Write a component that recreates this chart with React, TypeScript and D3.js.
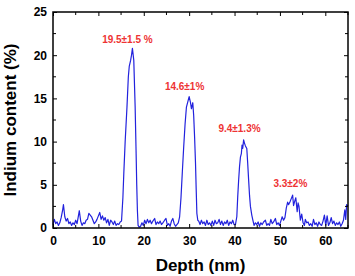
import React, { useEffect, useRef } from "react";
import * as d3 from "d3";

// depth (nm) and indium content (%)
const depth = [
  0, 0.3, 0.6, 0.9, 1.2, 1.5, 1.8, 2.1, 2.3, 2.6, 2.9, 3.2, 3.5, 3.8, 4.1, 4.4, 4.7, 5.0, 5.3, 5.6, 5.8,
  6.1, 6.4, 6.7, 7.0, 7.3, 7.6, 7.9, 8.2, 8.5, 8.8, 9.1, 9.4, 9.7, 10.0, 10.3, 10.6, 10.9, 11.2, 11.5,
  11.8, 12.1, 12.4, 12.7, 13.0, 13.3, 13.6, 13.9, 14.2, 14.5, 14.8, 15.1,
  15.4, 15.6, 15.9, 16.3, 16.6, 16.8, 17.1, 17.3, 17.5, 17.8, 18.1, 18.3, 18.45, 18.6, 18.75,
  19.0, 19.3, 19.6, 19.9, 20.2, 20.5, 20.8, 21.1, 21.4, 21.7, 22.0, 22.4, 22.7, 23.0, 23.3, 23.6, 23.9,
  24.2, 24.6, 24.9, 25.2, 25.5, 25.8, 26.1, 26.4, 26.7, 27.0, 27.3, 27.6, 27.9,
  28.2, 28.5, 28.8, 29.1, 29.4, 29.7, 30.0, 30.3, 30.5, 30.8, 31.0, 31.2, 31.4, 31.55, 31.7, 31.9,
  32.1, 32.4, 32.7, 33.0, 33.3, 33.6, 33.9, 34.2, 34.5, 34.8, 35.1, 35.4, 35.7, 36.0, 36.3, 36.6, 36.9,
  37.2, 37.5, 37.8, 38.1, 38.4, 38.7, 39.0, 39.3, 39.6, 39.9, 40.2,
  40.5, 40.7, 40.9, 41.1, 41.3, 41.5, 41.65, 41.8, 42.0, 42.2, 42.4, 42.7, 42.9, 43.1, 43.3, 43.5, 43.8,
  44.0, 44.3, 44.6, 44.9, 45.2, 45.5, 45.8, 46.1, 46.4, 46.8, 47.1, 47.4, 47.7, 48.0, 48.3, 48.6, 49.0,
  49.3, 49.6, 49.9, 50.2, 50.5, 50.8, 51.1, 51.4, 51.7, 51.9, 52.2, 52.5, 52.8, 53.0, 53.2, 53.5, 53.8,
  54.0, 54.2, 54.5, 54.8, 55.1, 55.4, 55.6, 55.9, 56.2, 56.5, 56.8, 57.1, 57.4, 57.7, 58.0, 58.3, 58.6,
  58.9, 59.2, 59.5, 59.8, 60.1, 60.4, 60.7, 61.0, 61.3, 61.6, 61.9, 62.2, 62.5, 62.8, 63.1, 63.4, 63.7,
  64.0, 64.3, 64.5, 64.7, 65.0,
];

const indium = [
  0.4, 1.0, 0.5, 0.7, 0.3, 0.6, 1.2, 2.0, 2.7, 1.3, 0.8, 1.1, 0.5, 0.7, 0.3, 0.6, 0.4, 0.9, 0.5, 1.4, 2.0,
  0.8, 0.3, 0.6, 0.5, 0.9, 1.0, 1.7, 1.5, 1.3, 0.9, 0.5, 0.7, 1.0, 1.4, 1.8, 1.0, 1.4, 0.9, 1.2,
  0.6, 1.0, 0.3, 0.9, 0.7, 0.4, 0.8, 0.3, 0.5, 0.4, 0.7, 0.8,
  3.5, 6.3, 10.0, 14.0, 17.5, 18.7, 19.4, 20.0, 20.8, 19.4, 14.0, 9.0, 5.0, 2.0, 0.3,
  0.1, 0.2, 0.6, 0.3, 0.9, 0.5, 1.0, 0.6, 0.9, 0.5, 0.8, 1.1, 0.4, 0.7, 0.5, 0.8, 0.4,
  0.6, 0.9, 1.1, 0.3, 0.5, 0.2, 0.8, 1.1, 0.5, 0.2, 0.4, 0.6, 1.3,
  3.5, 6.5, 9.4, 12.0, 14.0, 14.6, 15.2, 14.5, 13.8, 14.5, 13.0, 10.5, 7.5, 4.5, 1.7, 0.9,
  0.8, 0.4, 0.9, 0.5, 0.7, 0.3, 0.9, 0.4, 0.6, 0.3, 0.8, 0.3, 0.9, 0.5, 0.6, 1.0, 0.4,
  0.8, 0.3, 0.7, 0.5, 0.9, 0.3, 0.7, 0.5, 0.9, 0.4, 0.4,
  1.3, 3.6, 5.5, 7.1, 8.2, 8.6, 9.6, 9.2, 10.2, 9.8, 9.5, 9.2, 7.5, 5.6, 3.8, 2.5, 1.5,
  1.0, 0.3, 0.6, 0.4, 0.7, 0.2, 0.6, 0.4, 0.7, 0.9, 0.3, 0.5, 0.3, 1.0, 0.5, 0.7, 1.1,
  0.4, 0.6, 0.3, 0.8, 1.3, 0.9, 1.2, 2.3, 3.0, 2.7, 3.0, 3.4, 3.8, 2.6, 3.0, 3.5, 1.9,
  2.9, 2.5, 0.9, 1.6, 0.6, 0.3, 1.0, 0.6, 0.7, 0.3, 0.5, 0.2, 1.0, 0.4, 0.6, 0.2, 0.7,
  0.4, 0.3, 0.8, 1.5, 0.3, 1.4, 0.3, 0.6, 1.2, 0.5, 0.8, 0.3, 0.6, 0.4, 0.7, 0.2, 0.5,
  0.9, 2.1, 1.0, 2.7, 2.5,
];

// peak annotations
const peakLabels = ["19.5±1.5 %", "14.6±1%", "9.4±1.3%", "3.3±2%"];
const peakDepths = [16.4, 29.0, 41.1, 52.3];
const peakLabelValues = [21.4, 16.0, 11.1, 4.7];

const xTicks = [0, 10, 20, 30, 40, 50, 60];
const xMinorTicks = [5, 15, 25, 35, 45, 55, 65];
const yTicks = [0, 5, 10, 15, 20, 25];
const yMinorTicks = [2.5, 7.5, 12.5, 17.5, 22.5];

const App = () => {
  const svgRef = useRef(null);

  useEffect(() => {
    const svg = d3.select(svgRef.current);
    svg.selectAll("*").remove();

    const width = 355;
    const height = 276;
    const margin = { top: 12, right: 7, bottom: 48, left: 53 };
    const font = "'Liberation Sans', Arial, sans-serif";

    const x = d3
      .scaleLinear()
      .domain([0, 65])
      .range([margin.left, width - margin.right]);
    const y = d3
      .scaleLinear()
      .domain([0, 25])
      .range([height - margin.bottom, margin.top]);

    svg.append("rect").attr("width", width).attr("height", height).attr("fill", "white");

    // data line
    const points = depth.map((d, i) => [d, indium[i]]);
    svg
      .append("path")
      .datum(points)
      .attr("fill", "none")
      .attr("stroke", "#2222dd")
      .attr("stroke-width", 1.2)
      .attr("stroke-linejoin", "round")
      .attr("d", d3.line().x((d) => x(d[0])).y((d) => y(d[1])));

    // axes, ticks pointing inward
    const bottom = svg
      .append("g")
      .attr("transform", `translate(0, ${y(0)})`)
      .call(d3.axisBottom(x).tickValues(xTicks).tickSizeInner(-4).tickSizeOuter(0).tickPadding(8));
    bottom
      .selectAll(".minor")
      .data(xMinorTicks)
      .join("line")
      .attr("class", "minor")
      .attr("x1", (d) => x(d))
      .attr("x2", (d) => x(d))
      .attr("y2", -3)
      .attr("stroke", "black");

    const top = svg
      .append("g")
      .attr("transform", `translate(0, ${y(25)})`)
      .call(d3.axisTop(x).tickValues(xTicks).tickSizeInner(-4).tickSizeOuter(0).tickFormat(() => ""));
    top
      .selectAll(".minor")
      .data(xMinorTicks)
      .join("line")
      .attr("class", "minor")
      .attr("x1", (d) => x(d))
      .attr("x2", (d) => x(d))
      .attr("y2", 3)
      .attr("stroke", "black");

    const left = svg
      .append("g")
      .attr("transform", `translate(${x(0)}, 0)`)
      .call(d3.axisLeft(y).tickValues(yTicks).tickSizeInner(-4).tickSizeOuter(0).tickPadding(6));
    left
      .selectAll(".minor")
      .data(yMinorTicks)
      .join("line")
      .attr("class", "minor")
      .attr("y1", (d) => y(d))
      .attr("y2", (d) => y(d))
      .attr("x2", 3)
      .attr("stroke", "black");

    const right = svg
      .append("g")
      .attr("transform", `translate(${x(65)}, 0)`)
      .call(d3.axisRight(y).tickValues(yTicks).tickSizeInner(-4).tickSizeOuter(0).tickFormat(() => ""));
    right
      .selectAll(".minor")
      .data(yMinorTicks)
      .join("line")
      .attr("class", "minor")
      .attr("y1", (d) => y(d))
      .attr("y2", (d) => y(d))
      .attr("x2", -3)
      .attr("stroke", "black");

    svg.selectAll(".domain").remove();
    svg.selectAll(".tick line").attr("stroke", "black").attr("stroke-width", 1);
    svg
      .selectAll(".tick text")
      .attr("fill", "black")
      .style("font-family", font)
      .style("font-weight", "bold")
      .style("font-size", "12px");

    // frame
    svg
      .append("rect")
      .attr("x", x(0))
      .attr("y", y(25))
      .attr("width", x(65) - x(0))
      .attr("height", y(0) - y(25))
      .attr("fill", "none")
      .attr("stroke", "black")
      .attr("stroke-width", 1.5);

    // peak labels
    svg
      .selectAll(".peak")
      .data(peakLabels)
      .join("text")
      .attr("class", "peak")
      .attr("x", (d, i) => x(peakDepths[i]))
      .attr("y", (d, i) => y(peakLabelValues[i]))
      .attr("text-anchor", "middle")
      .attr("fill", "#ee3333")
      .style("font-family", font)
      .style("font-weight", "bold")
      .style("font-size", "10px")
      .text((d) => d);

    // axis titles
    svg
      .append("text")
      .attr("x", (x(0) + x(65)) / 2)
      .attr("y", 271)
      .attr("text-anchor", "middle")
      .style("font-family", font)
      .style("font-weight", "bold")
      .style("font-size", "17px")
      .text("Depth (nm)");

    svg
      .append("text")
      .attr("transform", `translate(16, ${(y(0) + y(25)) / 2}) rotate(-90)`)
      .attr("text-anchor", "middle")
      .style("font-family", font)
      .style("font-weight", "bold")
      .style("font-size", "17px")
      .text("Indium content (%)");
  }, []);

  return (
    <svg
      ref={svgRef}
      width={355}
      height={276}
      style={{ position: "absolute", left: 0, top: 0 }}
    ></svg>
  );
};

export default App;
